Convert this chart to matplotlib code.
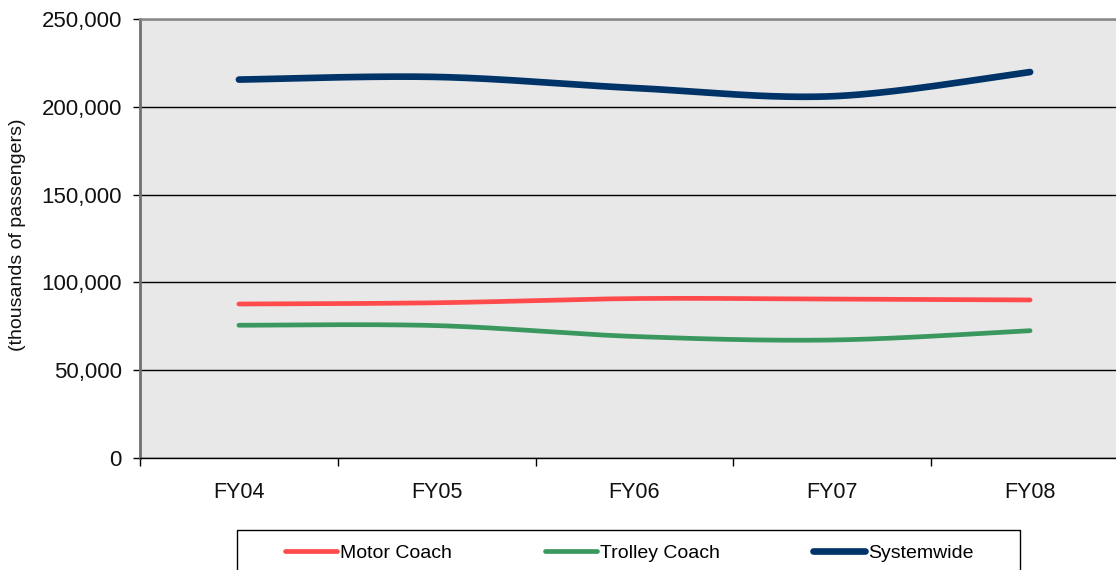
import numpy as np
import matplotlib
matplotlib.use("Agg")
import matplotlib.pyplot as plt
from matplotlib.patches import Rectangle
from matplotlib.ticker import FuncFormatter

plt.rcParams['font.family'] = ['Liberation Sans', 'DejaVu Sans']

# Ridership by mode, thousands of passengers
years = ["FY04", "FY05", "FY06", "FY07", "FY08"]
motor_coach = [87700, 88400, 90800, 90500, 90000]
trolley_coach = [75600, 75400, 69200, 67200, 72500]
systemwide = [215500, 217000, 210700, 206000, 219800]

series_names = ["Motor Coach", "Trolley Coach", "Systemwide"]
series_colors = ["#FF4B4B", "#3A985E", "#003468"]
series_widths = [3.4, 3.4, 4.8]


def smooth(xs, ys, n=40):
    """Catmull-Rom style Bezier smoothing through every point."""
    pts = np.column_stack([xs, ys]).astype(float)
    ext = np.vstack([pts[0], pts, pts[-1]])
    out = []
    t = np.linspace(0, 1, n)[:, None]
    for i in range(len(pts) - 1):
        p0, p1, p2, p3 = ext[i], ext[i + 1], ext[i + 2], ext[i + 3]
        c1 = p1 + (p2 - p0) / 6.0
        c2 = p2 - (p3 - p1) / 6.0
        seg = ((1 - t) ** 3) * p1 + 3 * ((1 - t) ** 2) * t * c1 \
            + 3 * (1 - t) * t ** 2 * c2 + t ** 3 * p2
        out.append(seg if i == 0 else seg[1:])
    arr = np.vstack(out)
    return arr[:, 0], arr[:, 1]


W, H = 1116, 570
fig = plt.figure(figsize=(W / 100, H / 100), dpi=100)
ax = fig.add_axes([140 / W, 112 / H, 976 / W, 439 / H])
ax.set_facecolor("#E8E8E8")

x = np.arange(len(years))
handles = []
for vals, name, col, lw in zip([motor_coach, trolley_coach, systemwide],
                               series_names, series_colors, series_widths):
    sx, sy = smooth(x, vals)
    h, = ax.plot(sx, sy, color=col, lw=lw, solid_capstyle="round",
                 solid_joinstyle="round", label=name, zorder=3)
    handles.append(h)

ax.set_yticks(np.arange(0, 250001, 50000))
ax.yaxis.set_major_formatter(FuncFormatter(lambda v, p: f"{int(v):,}"))
ax.yaxis.grid(True, color="black", lw=1)
ax.set_axisbelow(True)
ax.tick_params(axis="y", direction="out", length=5, width=1, color="black",
               pad=8, labelsize=16, labelcolor="#111111")

ax.set_xticks(x)
ax.set_xticklabels(years)
ax.set_xticks(np.arange(-0.5, 5.0, 1.0), minor=True)
ax.tick_params(axis="x", which="major", length=0, pad=17, labelsize=15.5,
               labelcolor="#111111")
ax.tick_params(axis="x", which="minor", direction="out", length=6, width=1,
               color="black")

# the last category runs slightly past the right edge of the figure
ax.set_xlim(-0.5, -0.5 + 976 / 197.8)
ax.set_ylim(0, 250000)

ax.spines["right"].set_visible(False)
ax.spines["top"].set_color("#888888")
ax.spines["top"].set_linewidth(1.8)
ax.spines["left"].set_color("#707070")
ax.spines["left"].set_linewidth(2)
ax.spines["bottom"].set_color("black")
ax.spines["bottom"].set_linewidth(1)

fig.text(18 / W, 1 - 235 / H, "(thousands of passengers)", rotation=90,
         ha="center", va="center", fontsize=14, color="#111111")

# Legend frame, running past the bottom edge of the figure
fig.patches.append(Rectangle((237 / W, -0.1), (1020 - 237) / W, 40 / H + 0.1,
                             transform=fig.transFigure, fill=False,
                             edgecolor="black", lw=1))
fig.legend(handles, series_names, loc="center",
           bbox_to_anchor=(629 / W, 17 / H), ncol=3, frameon=False,
           fontsize=14, handlelength=2.67, handletextpad=0.15,
           columnspacing=4.8, borderpad=0)

fig.savefig("out.png", dpi=100)
